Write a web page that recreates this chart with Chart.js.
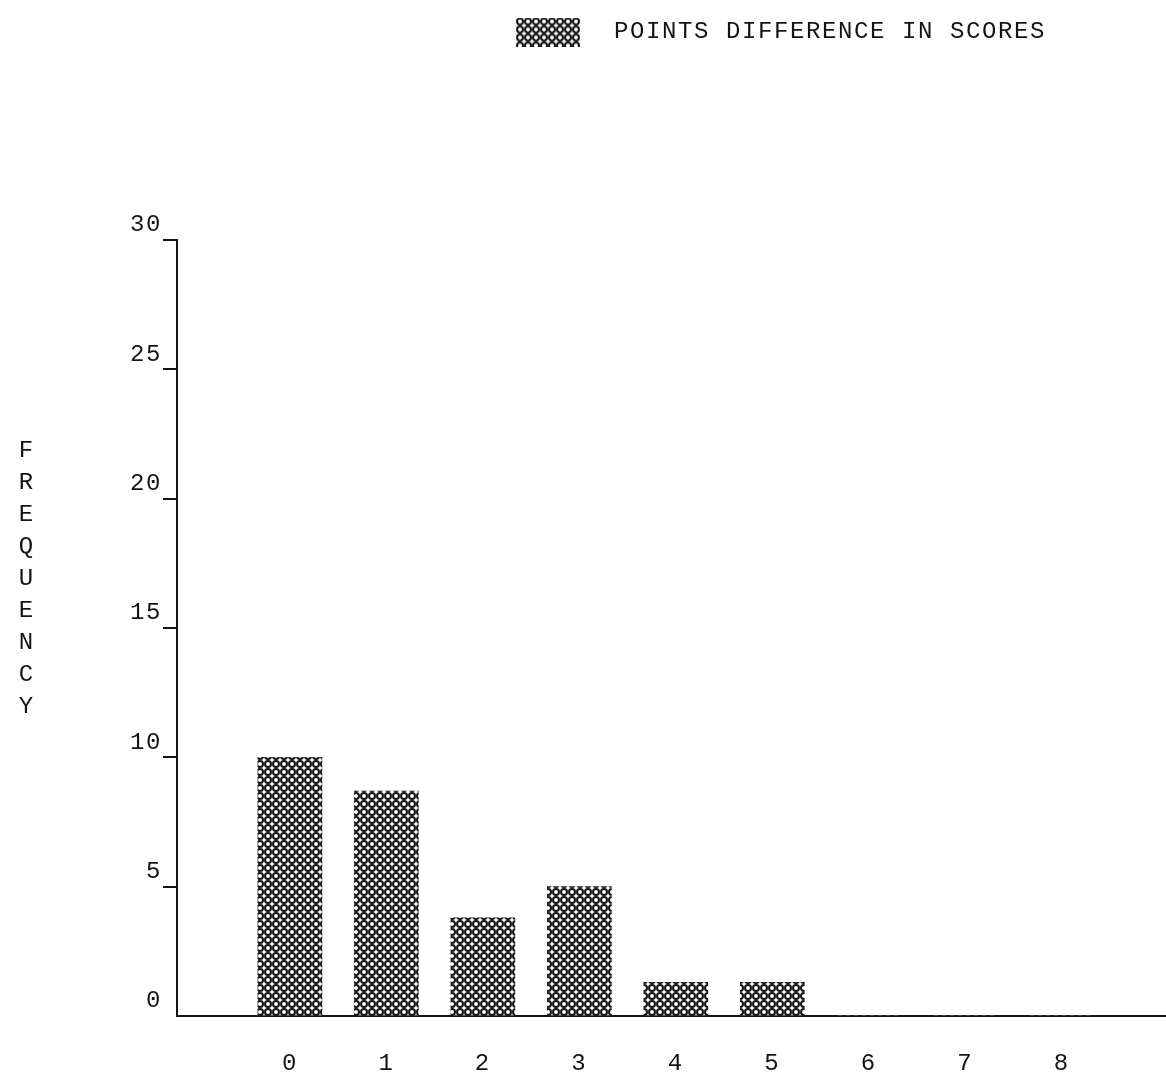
<!DOCTYPE html>
<html>
<head>
<meta charset="utf-8">
<script src="https://cdn.jsdelivr.net/npm/chart.js@4.4.1/dist/chart.umd.min.js"></script>
<style>
  html, body { margin: 0; padding: 0; background: #fff; }
  #wrap { width: 1166px; height: 1076px; }
</style>
</head>
<body>
<div id="wrap"><canvas id="chart"></canvas></div>
<script>
const categories = ['0', '1', '2', '3', '4', '5', '6', '7', '8'];
const frequency = [10, 8.7, 3.8, 5, 1.3, 1.3, 0, 0, 0];
const yTicks = [0, 5, 10, 15, 20, 25, 30];
const seriesLabel = 'POINTS DIFFERENCE IN SCORES';
const yTitle = 'FREQUENCY';

const FONT = '"Liberation Mono", monospace';
const INK = '#141414';

// little circle tile used as the fill for bars and the legend swatch
function circleTile() {
  const c = document.createElement('canvas');
  c.width = 8; c.height = 8;
  const g = c.getContext('2d');
  g.fillStyle = '#fff';
  g.fillRect(0, 0, 8, 8);
  g.strokeStyle = INK;
  g.lineWidth = 2;
  g.beginPath();
  g.arc(4, 4, 3, 0, Math.PI * 2);
  g.stroke();
  return c;
}
const tile = circleTile();
const barFill = document.createElement('canvas').getContext('2d').createPattern(tile, 'repeat');

const swatch = document.createElement('canvas');
swatch.width = 64; swatch.height = 29;
const sg = swatch.getContext('2d');
sg.fillStyle = sg.createPattern(tile, 'repeat');
sg.fillRect(0, 0, 64, 29);

// typewriter-ish spacing for all text
const typewriter = {
  id: 'typewriter',
  beforeUpdate(chart) { chart.ctx.letterSpacing = '1.6px'; },
  beforeDraw(chart) { chart.ctx.letterSpacing = '1.6px'; }
};

// legend sits right of centre in the original
const legendPlace = {
  id: 'legendPlace',
  afterLayout(chart) {
    const lg = chart.legend;
    const shift = 474 - lg.left;
    lg.left += shift;
    lg.right += shift;
  }
};

// y title written as stacked letters
const stackedTitle = {
  id: 'stackedTitle',
  afterDraw(chart) {
    const ctx = chart.ctx;
    ctx.save();
    ctx.letterSpacing = '0px';
    ctx.font = '24px ' + FONT;
    ctx.fillStyle = INK;
    ctx.textAlign = 'center';
    ctx.textBaseline = 'middle';
    [...yTitle].forEach((ch, i) => ctx.fillText(ch, 26, 451 + i * 32));
    ctx.restore();
  }
};

new Chart(document.getElementById('chart'), {
  type: 'bar',
  data: {
    datasets: [{
      label: seriesLabel,
      data: frequency.map((v, i) => ({ x: Number(categories[i]), y: v })),
      backgroundColor: barFill,
      borderWidth: 0,
      barThickness: 64
    }]
  },
  options: {
    responsive: true,
    maintainAspectRatio: false,
    animation: false,
    layout: { padding: 0 },
    plugins: {
      tooltip: { enabled: false },
      legend: {
        position: 'top',
        align: 'start',
        labels: {
          usePointStyle: true,
          pointStyle: swatch,
          pointStyleWidth: 108,
          padding: 20,
          color: INK,
          font: { family: FONT, size: 24 }
        }
      }
    },
    scales: {
      x: {
        type: 'linear',
        offset: false,
        min: -1.17,
        max: 9.08,
        afterFit: s => { s.height = 60; s.paddingLeft = 0; s.paddingRight = 0; },
        border: { color: INK, width: 2 },
        grid: { display: false, offset: false },
        ticks: {
          stepSize: 1,
          autoSkip: false,
          maxRotation: 0,
          includeBounds: false,
          padding: 25,
          color: INK,
          font: { family: FONT, size: 24 },
          callback: v => categories.includes(String(v)) ? String(v) : ''
        }
      },
      x2: {
        type: 'linear',
        position: 'top',
        afterFit: s => { s.height = 186; },
        border: { display: false },
        grid: { display: false },
        ticks: { display: false }
      },
      y: {
        min: 0,
        max: 30,
        afterFit: s => { s.width = 177; },
        afterBuildTicks: s => { s.ticks = yTicks.map(v => ({ value: v })); },
        border: { color: INK, width: 2 },
        grid: {
          drawOnChartArea: false,
          tickLength: 14,
          lineWidth: 2,
          color: c => (c.tick && c.tick.value === 0) ? 'rgba(0,0,0,0)' : INK
        },
        ticks: {
          color: INK,
          padding: 1,
          labelOffset: -15,
          font: { family: FONT, size: 24 }
        }
      }
    }
  },
  plugins: [typewriter, legendPlace, stackedTitle]
});
</script>
</body>
</html>
